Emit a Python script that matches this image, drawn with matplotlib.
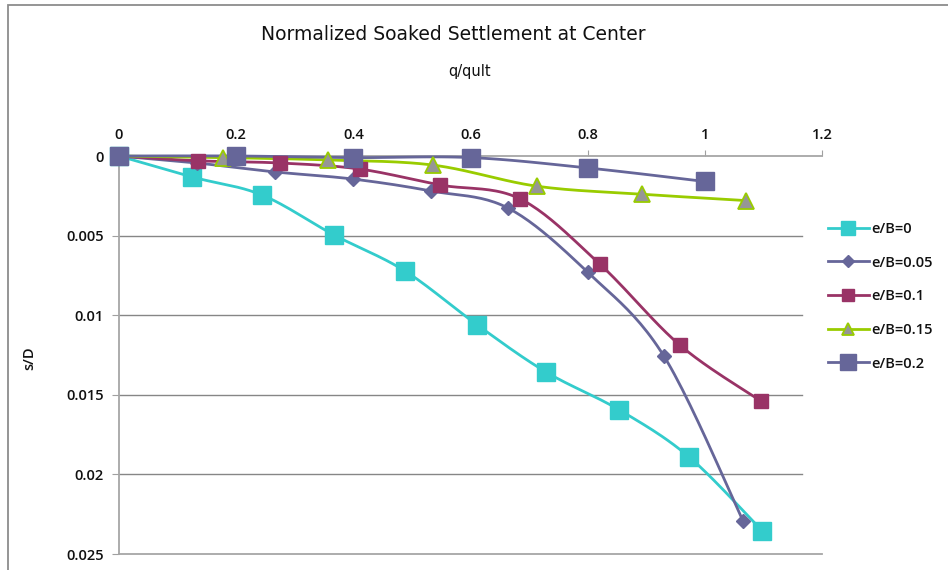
import numpy as np
import matplotlib
matplotlib.use("Agg")
import matplotlib.pyplot as plt
from matplotlib.patches import Rectangle

# ---- data ----
x_e0 = [0, 0.125, 0.244, 0.367, 0.488, 0.611, 0.729, 0.854, 0.973, 1.098]
s_e0 = [0, 0.00132, 0.00245, 0.00496, 0.00722, 0.0106, 0.01357, 0.01595, 0.0189, 0.02355]

x_e005 = [0, 0.133, 0.266, 0.40, 0.533, 0.664, 0.80, 0.930, 1.065]
s_e005 = [0, 0.00044, 0.0010, 0.00145, 0.0022, 0.00327, 0.0073, 0.01256, 0.0229]

x_e01 = [0, 0.134, 0.275, 0.411, 0.548, 0.685, 0.821, 0.958, 1.096]
s_e01 = [0, 0.0003, 0.00044, 0.00082, 0.00182, 0.0027, 0.0068, 0.0119, 0.0154]

x_e015 = [0, 0.178, 0.357, 0.536, 0.714, 0.893, 1.070]
s_e015 = [0, 0.0001, 0.00025, 0.00057, 0.0019, 0.0024, 0.0028]

x_e02 = [0, 0.2, 0.4, 0.6, 0.8, 1.0]
s_e02 = [0, 0.0, 0.0001, 0.0001, 0.00075, 0.0016]

labels = ["e/B=0", "e/B=0.05", "e/B=0.1", "e/B=0.15", "e/B=0.2"]
x_ticks = [0, 0.2, 0.4, 0.6, 0.8, 1, 1.2]
x_ticklabels = ["0", "0.2", "0.4", "0.6", "0.8", "1", "1.2"]
y_ticks = [0, 0.005, 0.01, 0.015, 0.02, 0.025]
y_ticklabels = ["0", "0.005", "0.01", "0.015", "0.02", "0.025"]

W, H = 948, 570
fig = plt.figure(figsize=(W / 100, H / 100), dpi=100)
fig.patch.set_facecolor("white")

# outer chart frame (cropped on right/bottom)
fig.add_artist(Rectangle((8 / W, -0.1), 1.2, (H - 5) / H + 0.1, transform=fig.transFigure,
                         fill=False, edgecolor="#8c8c8c", linewidth=1.3))

L, R, T, B = 119, 822, 156, 554
ax = fig.add_axes([L / W, 1 - B / H, (R - L) / W, (B - T) / H])
ax.set_xlim(0, 1.2)
ax.set_ylim(0.025, 0)

tick_font = dict(family=["Open Sans", "DejaVu Sans"], fontsize=10.5, weight="semibold", color="#111111")

ax.xaxis.tick_top()
ax.set_xticks(x_ticks)
ax.set_xticklabels(x_ticklabels, **tick_font)
ax.set_yticks(y_ticks)
ax.set_yticklabels(y_ticklabels, **tick_font)
ax.tick_params(axis="x", direction="out", length=4, color="#a0a0a0", pad=6)
ax.tick_params(axis="y", direction="out", length=5, color="#a0a0a0", pad=6)

ax.spines["right"].set_visible(False)
for sp in ["bottom", "left", "top"]:
    ax.spines[sp].set_color("#a6a6a6")
    ax.spines[sp].set_linewidth(1.3)

for yv in y_ticks[1:-1]:
    ax.axhline(yv, xmin=0, xmax=(802 - L) / (R - L), color="#868686", linewidth=1.0, zorder=1)

# Excel-like smoothing (Bezier through the data points) in display units
def smooth(xs, ys, n=24):
    xs = np.asarray(xs, float)
    ys = np.asarray(ys, float)
    sx, sy = (R - L) / 1.2, (B - T) / 0.025
    P = np.column_stack([xs * sx, ys * sy])
    out = [P[0]]
    m = len(P)
    for i in range(m - 1):
        p0 = P[i - 1] if i > 0 else P[i]
        p1 = P[i]
        p2 = P[i + 1]
        p3 = P[i + 2] if i + 2 < m else P[i + 1]
        c1 = p1 + (p2 - p0) / 6.0
        c2 = p2 - (p3 - p1) / 6.0
        t = np.linspace(0, 1, n)[1:, None]
        seg = ((1 - t) ** 3) * p1 + 3 * ((1 - t) ** 2) * t * c1 + 3 * (1 - t) * t ** 2 * c2 + t ** 3 * p2
        out.extend(seg)
    out = np.array(out)
    return out[:, 0] / sx, out[:, 1] / sy

series = [
    (x_e0, s_e0, dict(color="#33CCCC", marker="s", ms=12.5, mfc="#33CCCC", mec="#33CCCC")),
    (x_e005, s_e005, dict(color="#666699", marker="D", ms=7, mfc="#666699", mec="#666699")),
    (x_e01, s_e01, dict(color="#993366", marker="s", ms=9.5, mfc="#993366", mec="#993366")),
    (x_e015, s_e015, dict(color="#99CC00", marker="^", ms=11, mfc="#969696", mec="#99CC00", mew=1.3)),
    (x_e02, s_e02, dict(color="#666699", marker="s", ms=13, mfc="#666699", mec="#666699")),
]

handles = []
for (xs, ys, st), lab in zip(series, labels):
    sxs, sys_ = smooth(xs, ys)
    ax.plot(sxs, sys_, color=st["color"], linewidth=2.0, zorder=3, solid_capstyle="round",
            clip_on=False)
    ax.plot(xs, ys, linestyle="none", marker=st["marker"], markersize=st["ms"],
            markerfacecolor=st["mfc"], markeredgecolor=st["mec"],
            markeredgewidth=st.get("mew", 1.0), zorder=4, clip_on=False)
    h, = ax.plot([], [], color=st["color"], linewidth=2.0, marker=st["marker"],
                 markersize=st["ms"] * 0.85, markerfacecolor=st["mfc"],
                 markeredgecolor=st["mec"], markeredgewidth=st.get("mew", 1.0), label=lab)
    handles.append(h)

leg = fig.legend(handles=handles, labels=labels, loc="upper left",
                 bbox_to_anchor=(822 / W, 1 - 216 / H), frameon=False,
                 prop=dict(family=["Open Sans", "DejaVu Sans"], size=10.5, weight="semibold"),
                 handlelength=2.8, handletextpad=0.2, labelspacing=1.35, borderaxespad=0)
for t in leg.get_texts():
    t.set_color("#111111")

fig.text(453 / W, 1 - 35 / H, "Normalized Soaked Settlement at Center",
         ha="center", va="center", fontsize=13.5, color="#111111",
         family=["Liberation Sans Narrow", "DejaVu Sans Condensed", "DejaVu Sans"])
fig.text(470 / W, 1 - 72 / H, "q/qult", ha="center", va="center", fontsize=10.5,
         color="#111111", family=["Liberation Sans Narrow", "DejaVu Sans"])
fig.text(29 / W, 1 - 358 / H, "s/D", ha="center", va="center", rotation=90,
         fontsize=10.5, weight="semibold", color="#111111",
         family=["Open Sans", "DejaVu Sans"])

fig.savefig("out.png", dpi=100, facecolor="white")
